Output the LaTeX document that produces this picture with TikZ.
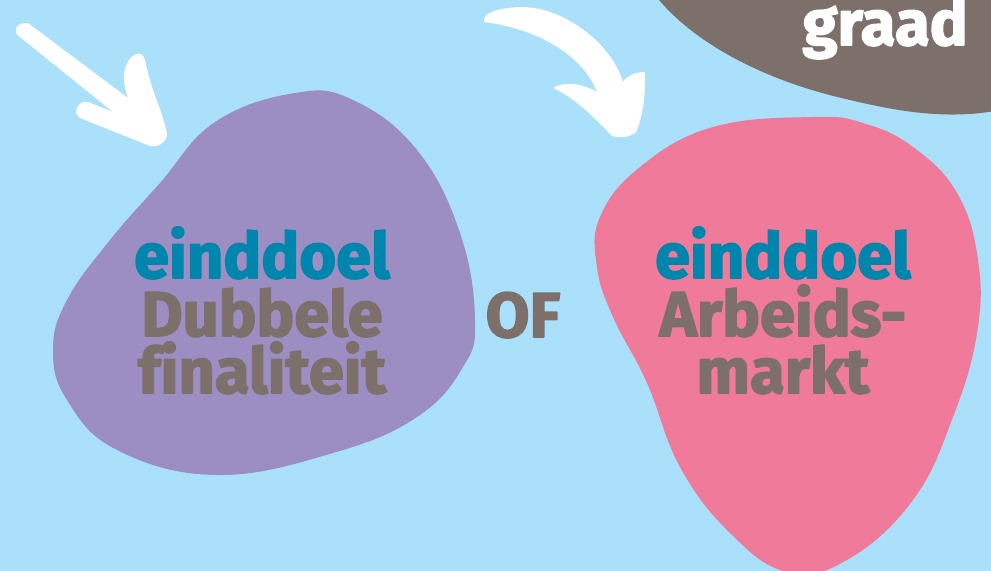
\documentclass[tikz,border=0pt]{standalone}
\usepackage{fontspec}
\setmainfont{Fira Sans}
\newfontfamily\heavy{Fira Sans}[UprightFont=* Bold, FakeBold=2.5, Ligatures=NoCommon]
\definecolor{lucht}{RGB}{170,224,250}
\definecolor{paars}{RGB}{156,142,194}
\definecolor{roze}{RGB}{240,122,154}
\definecolor{taupe}{RGB}{125,112,107}
\definecolor{petrol}{RGB}{0,134,173}
\begin{document}
\begin{tikzpicture}[x=0.02cm,y=-0.02cm, line join=round, line cap=round]
	\tikzset{lbl/.style={font=\heavy\fontsize{36}{36}\selectfont, inner sep=0pt, anchor=base},
		doel/.style={lbl, text=petrol},
		naam/.style={lbl, text=taupe},
		pijl/.style={fill=white}}
	\useasboundingbox (0,0) rectangle (991,571);
	\clip (0,0) rectangle (991,571);
	\fill[lucht] (0,0) rectangle (991,571);
	%%%%%%%%% Graad
	\fill[taupe] (655,-5) .. controls (690,40) and (760,80) .. (850,100) .. controls (900,112) and (950,120) .. (1000,110) -- (1000,-5) -- cycle;
	\node[lbl, text=white, anchor=base east] (graad) at (968,45) {graad};
	%%%%%%%%% Blobs
	\fill[paars] plot[smooth cycle, tension=0.7] coordinates {(295,93) (353,100) (417,150) (460,233) (475,320) (463,367) (417,417) (333,453) (217,475) (117,450) (67,400) (53,350) (67,300) (110,240) (160,183) (215,122)};
	\fill[roze] plot[smooth cycle, tension=0.7] coordinates {(813,117) (863,123) (913,147) (957,193) (978,260) (977,333) (953,417) (913,500) (847,560) (787,572) (730,533) (680,467) (647,383) (613,317) (597,267) (600,217) (640,167) (713,127)};
	%%%%%%%%% Pijlen
	\fill[pijl] (28,23) -- (128,98) .. controls (121,80) and (123,60) .. (136,54) .. controls (142,52) and (145,57) .. (146,64) .. controls (151,90) and (162,110) .. (167,133) .. controls (168,140) and (160,148) .. (150,146) -- (80,118) .. controls (72,113) and (78,100) .. (88,102) -- (113,112) -- (20,37) .. controls (12,32) and (16,22) .. (28,23) -- cycle;
	\fill[pijl] (484,22) .. controls (482,12) and (500,8) .. (520,7) .. controls (560,6) and (610,40) .. (623,82) .. controls (628,75) and (636,72) .. (645,72) .. controls (646,95) and (642,120) .. (636,132) .. controls (630,138) and (618,138) .. (612,136) .. controls (595,118) and (575,98) .. (553,88) .. controls (562,82) and (580,82) .. (597,92) .. controls (585,60) and (545,30) .. (484,22) -- cycle;
	%%%%%%%%% Tekst
	\node[doel] (doelA) at (262,278) {einddoel};
	\node[naam] (dubbele) at (262,336) {Dubbele};
	\node[naam] (finaliteit) at (262,393) {f\kern0pt inaliteit};
	\node[naam] (of) at (523,337) {OF};
	\node[doel] (doelB) at (783,278) {einddoel};
	\node[naam] (arbeids) at (783,336) {Arbeids-};
	\node[naam] (markt) at (783,393) {markt};
\end{tikzpicture}
\end{document}
